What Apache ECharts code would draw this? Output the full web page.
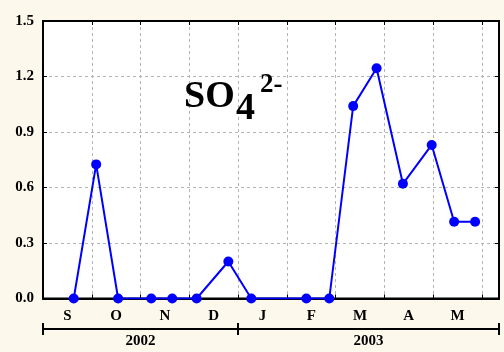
<!DOCTYPE html>
<html style="height: 100%">

<head>
    <meta charset="utf-8">
</head>

<body style="height: 100%; margin: 0; background: #fdf8ec">
    <div id="container" style="width: 504px; height: 352px"></div>
    <script type="text/javascript" src="https://cdn.jsdelivr.net/npm/echarts@6/dist/echarts.min.js"></script>
    <script type="text/javascript">
        // month position (months since 1 Sep 2002) and SO4 2- value
        var monthPos = [0.63, 1.09, 1.54, 2.22, 2.65, 3.15, 3.80, 4.27, 5.40, 5.87, 6.36, 6.84, 7.38, 7.97, 8.43, 8.86];
        var so4 = [0, 0.725, 0, 0, 0, 0, 0.2, 0, 0, 0, 1.04, 1.245, 0.62, 0.83, 0.415, 0.415];
        var monthLabels = ['S', 'O', 'N', 'D', 'J', 'F', 'M', 'A', 'M'];
        var monthLabelPos = [0.5, 1.5, 2.5, 3.5, 4.5, 5.5, 6.5, 7.5, 8.5];
        var yearLabels = ['2002', '2003'];
        var yearLabelPos = [2, 6.675];
        var yearBounds = [0, 4, 9.35];
        var xMax = 9.35;

        var font = 'Liberation Serif';
        var dom = document.getElementById("container");
        var myChart = echarts.init(dom);

        var data = [];
        for (var i = 0; i < monthPos.length; i++) {
            data.push([monthPos[i], so4[i]]);
        }

        function grayDash() {
            return { show: true, showMinLine: false, showMaxLine: false, lineStyle: { color: '#b4b4b4', type: [3, 3], width: 1 } };
        }
        function blackLine() {
            return { show: true, onZero: false, lineStyle: { color: '#000', width: 2 } };
        }
        function inTick() {
            return { inside: true, length: 4, lineStyle: { color: '#000', width: 1 } };
        }
        function labelFont(extra) {
            return Object.assign({ fontFamily: font, fontWeight: 'bold', fontSize: 15, color: '#000' }, extra);
        }

        var plotBox = { left: 43, right: 5, top: 21, height: 277.5 };

        var option = {
            backgroundColor: '#fdf8ec',
            animation: false,
            title: [
                { text: 'SO', left: 184, top: 78, padding: 0, textStyle: { fontFamily: font, fontWeight: 'bold', fontSize: 38, color: '#000' } },
                { text: '4', left: 236, top: 90, padding: 0, textStyle: { fontFamily: font, fontWeight: 'bold', fontSize: 38, color: '#000' } },
                { text: '2-', left: 260, top: 72, padding: 0, textStyle: { fontFamily: font, fontWeight: 'bold', fontSize: 27, color: '#000' } }
            ],
            grid: [
                Object.assign({ backgroundColor: '#fff', show: true, borderWidth: 0 }, plotBox),
                { left: 43, right: 5, top: 329, height: 0 },
                // frame drawn above the dashed grid lines
                Object.assign({ show: true, z: 1, backgroundColor: 'transparent', borderColor: '#000', borderWidth: 2 }, plotBox)
            ],
            xAxis: [
                {
                    gridIndex: 0, type: 'value', position: 'bottom', min: 0, max: xMax, interval: 1,
                    axisLine: blackLine(),
                    axisTick: inTick(),
                    axisLabel: labelFont({
                        customValues: monthLabelPos, margin: 10,
                        formatter: function (v) { return monthLabels[Math.round(v - 0.5)]; }
                    }),
                    splitLine: grayDash()
                },
                {
                    gridIndex: 0, type: 'value', position: 'top', min: 0, max: xMax, interval: 1,
                    axisLine: blackLine(),
                    axisTick: inTick(),
                    axisLabel: { show: false },
                    splitLine: { show: false }
                },
                {
                    gridIndex: 1, type: 'value', position: 'bottom', min: 0, max: xMax,
                    axisLine: blackLine(),
                    axisTick: { customValues: yearBounds, length: 6, lineStyle: { color: '#000', width: 2 } },
                    axisLabel: labelFont({
                        customValues: yearLabelPos, margin: 5,
                        formatter: function (v) { return v < 4 ? yearLabels[0] : yearLabels[1]; }
                    }),
                    splitLine: { show: false }
                },
                {
                    gridIndex: 1, type: 'value', position: 'top', min: 0, max: xMax,
                    axisLine: blackLine(),
                    axisTick: { customValues: yearBounds, length: 6, lineStyle: { color: '#000', width: 2 } },
                    axisLabel: { show: false },
                    splitLine: { show: false }
                },
                { gridIndex: 2, type: 'value', show: false }
            ],
            yAxis: [
                {
                    gridIndex: 0, type: 'value', position: 'left', min: 0, max: 1.5, interval: 0.3,
                    axisLine: blackLine(),
                    axisTick: inTick(),
                    axisLabel: labelFont({
                        margin: 9,
                        formatter: function (v) { return v.toFixed(1); }
                    }),
                    splitLine: grayDash()
                },
                {
                    gridIndex: 0, type: 'value', position: 'right', min: 0, max: 1.5, interval: 0.3,
                    axisLine: blackLine(),
                    axisTick: inTick(),
                    axisLabel: { show: false },
                    splitLine: { show: false }
                },
                { gridIndex: 1, type: 'value', show: false },
                { gridIndex: 2, type: 'value', show: false }
            ],
            series: [
                {
                    type: 'line',
                    xAxisIndex: 0,
                    yAxisIndex: 0,
                    data: data,
                    symbol: 'circle',
                    symbolSize: 10,
                    itemStyle: { color: '#0000ff' },
                    lineStyle: { color: '#0000ff', width: 2 }
                }
            ]
        };

        myChart.setOption(option, true);
    </script>
</body>

</html>
